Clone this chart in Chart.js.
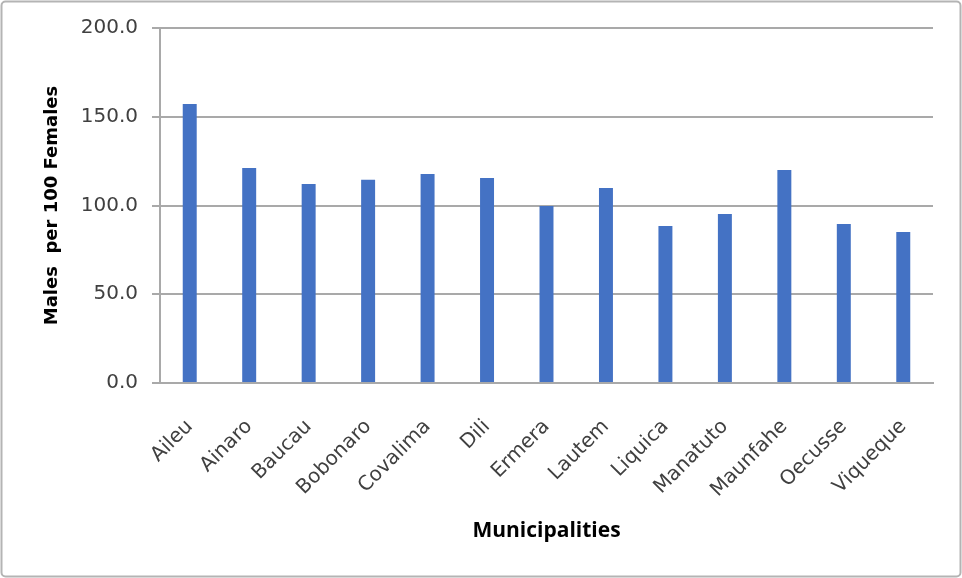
<!DOCTYPE html>
<html>
<head>
<meta charset="utf-8">
<script src="https://cdn.jsdelivr.net/npm/chart.js@4/dist/chart.umd.min.js"></script>
<style>
  body{margin:0;background:#fff;}
  canvas{display:block;}
</style>
</head>
<body>
<canvas id="sexRatioChart" width="962" height="578"></canvas>
<script>
const municipalities=['Aileu','Ainaro','Baucau','Bobonaro','Covalima','Dili','Ermera','Lautem','Liquica','Manatuto','Maunfahe','Oecusse','Viqueque'];
const malesPer100Females=[157.2,121.1,112.1,114.5,117.7,115.5,99.7,109.9,88.5,95.2,120.0,89.6,85.1];
const yTicks=[0,50,100,150,200];

const gridGray='#a9a9a9';

// light gray rounded frame around the whole chart
const framePlugin={
    id:'frame',
    beforeDraw(chart){
        const ctx=chart.ctx;
        ctx.save();
        ctx.fillStyle='#fff';
        ctx.fillRect(0,0,chart.width,chart.height);
        ctx.restore();
    },
    afterDraw(chart){
        const ctx=chart.ctx;
        ctx.save();
        ctx.strokeStyle='#b4b4b4';
        ctx.lineWidth=2;
        ctx.beginPath();
        ctx.roundRect(1.5,1.5,chart.width-3,chart.height-3,4);
        ctx.stroke();
        ctx.restore();
    }
};

new Chart(document.getElementById('sexRatioChart').getContext('2d'),{
    type:'bar',
    data:{
        labels:municipalities,
        datasets:[{
            label:'Males per 100 Females',
            data:malesPer100Females,
            backgroundColor:'#4472c4',
            borderWidth:0,
            categoryPercentage:1,
            barPercentage:0.235
        }]
    },
    options:{
        responsive:false,
        animation:false,
        layout:{padding:{top:28,right:29,left:10,bottom:0}},
        plugins:{legend:{display:false},tooltip:{enabled:false}},
        scales:{
            x:{
                grid:{display:false},
                border:{display:true,color:gridGray,width:2},
                ticks:{
                    autoSkip:false,
                    maxRotation:45,
                    minRotation:45,
                    padding:24,
                    color:'#404040',
                    font:{family:'DejaVu Sans',size:20}
                },
                title:{
                    display:true,
                    text:'Municipalities',
                    color:'#000',
                    font:{family:'Open Sans',size:21,weight:'bold'},
                    padding:{top:0,bottom:34}
                },
                afterFit(scale){scale.height=195;}
            },
            y:{
                min:0,
                max:200,
                afterBuildTicks(scale){scale.ticks=yTicks.map(v=>({value:v}));},
                grid:{color:gridGray,lineWidth:2,tickLength:8},
                border:{display:true,color:gridGray,width:2},
                ticks:{
                    padding:14,
                    color:'#404040',
                    font:{family:'DejaVu Sans',size:20},
                    callback:v=>v.toFixed(1)
                },
                title:{
                    display:true,
                    text:'Males  per 100 Females',
                    color:'#000',
                    font:{family:'DejaVu Sans',size:18,weight:'bold'},
                    padding:{top:32,bottom:0}
                },
                afterFit(scale){scale.width=150;}
            }
        }
    },
    plugins:[framePlugin]
});
</script>
</body>
</html>
